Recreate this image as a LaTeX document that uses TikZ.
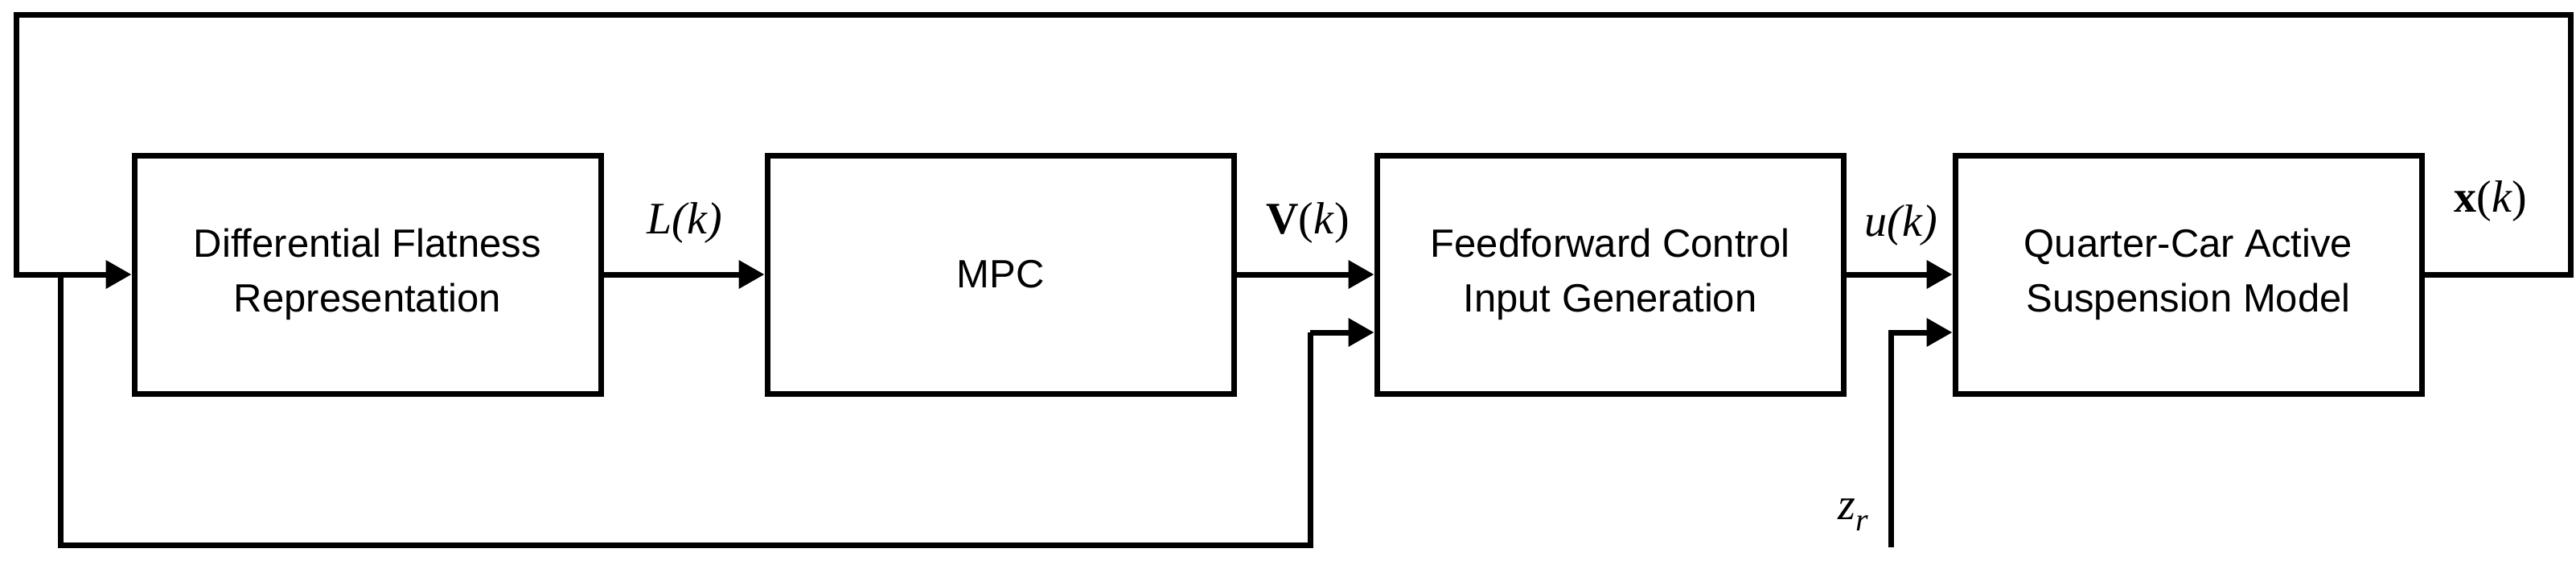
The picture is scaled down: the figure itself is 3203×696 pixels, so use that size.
\documentclass[tikz,border=0pt]{standalone}
\usepackage{fontspec}
\setmainfont{Liberation Sans}
\newfontfamily\serif{Liberation Serif}
\usetikzlibrary{arrows.meta}
\begin{document}
\begin{tikzpicture}[x=1pt,y=-1pt,
  blk/.style={draw,line width=7pt,minimum width=580pt,minimum height=296pt,inner sep=0pt,align=center,font=\fontsize{49}{68}\selectfont},
  ln/.style={line width=7pt},
  ar/.style={ln,-{Triangle[length=32pt,width=34pt]}},
  lab/.style={font=\fontsize{56}{60}\serif}]
\useasboundingbox (0,0) rectangle (3203,696);
\node[blk] (b1) at (457,341) {Differential Flatness\\Representation};
\node[blk] (b2) at (1244,341) {MPC};
\node[blk] (b3) at (2002,341) {Feedforward Control\\Input Generation};
\node[blk] (b4) at (2721,341) {Quarter-Car Active\\Suspension Model};
\coordinate (r) at (3196,341);
\coordinate (tr) at (3196,18);
\coordinate (tl) at (20,18);
\coordinate (l) at (20,341);
\coordinate (s) at (75,341);
\coordinate (bl) at (75,677);
\coordinate (br) at (1629,677);
\coordinate (bu) at (1629,413);
\coordinate (z) at (2351,680);
\coordinate (zu) at (2351,413);
\draw[ar] (b1) -- (b2);
\draw[ar] (b2) -- (b3);
\draw[ar] (b3) -- (b4);
\draw[ar] (b4.east) -- (r) -- (tr) -- (tl) -- (l) -- (b1.west);
\draw[ln] (s) -- (bl) -- (br) -- (bu);
\draw[ar] (bu) -- (bu -| b3.west);
\draw[ar] (z) -- (zu) -- (zu -| b4.west);
\node[lab] (lL) at (851,277) {\itshape L(k)};
\node[lab] (lV) at (1626,277) {\textbf{V}(\textit{k})};
\node[lab] (lu) at (2364,280) {\itshape u(k)};
\node[lab] (lx) at (3097,250) {\textbf{x}(\textit{k})};
\node[lab] (lz) at (2304,640) {\textit{z}\raisebox{-0.25em}{\fontsize{40}{40}\selectfont\itshape r}};
\end{tikzpicture}
\end{document}
